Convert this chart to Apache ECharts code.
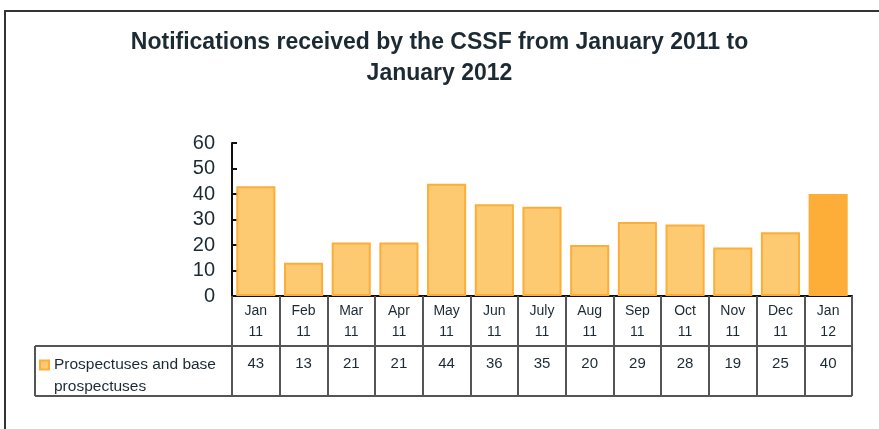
<!DOCTYPE html>
<html>
<head>
<meta charset="utf-8">
<script src="https://cdn.jsdelivr.net/npm/echarts@6/dist/echarts.min.js"></script>
<style>
  html, body { margin: 0; padding: 0; background: #fff; }
  #chart { width: 879px; height: 429px; }
</style>
</head>
<body>
<div id="chart"></div>
<script>
  // data
  const months = ['Jan', 'Feb', 'Mar', 'Apr', 'May', 'Jun', 'July', 'Aug', 'Sep', 'Oct', 'Nov', 'Dec', 'Jan']
  const years = ['11', '11', '11', '11', '11', '11', '11', '11', '11', '11', '11', '11', '12']
  const notifications = [43, 13, 21, 21, 44, 36, 35, 20, 29, 28, 19, 25, 40]
  const seriesName = 'Prospectuses and base prospectuses'
  const yTicks = [0, 10, 20, 30, 40, 50, 60]

  const categories = months.map((m, i) => m + '\n' + years[i])
  const txt = '#1c2a33'
  const lineCol = '#555'

  const myChart = echarts.init(document.getElementById('chart'))
  myChart.setOption({
    animation: false,
    textStyle: { fontFamily: 'Liberation Sans, Arial, sans-serif' },
    title: {
      text: 'Notifications received by the CSSF from January 2011 to\nJanuary 2012',
      left: 'center',
      top: 22,
      textStyle: {
        fontSize: 23,
        fontWeight: 'bold',
        color: txt,
        lineHeight: 31
      }
    },
    legend: {
      left: 39,
      top: 357,
      padding: 0,
      icon: 'rect',
      itemWidth: 9,
      itemHeight: 9,
      formatter: () => 'Prospectuses and base',
      textStyle: { fontSize: 15.5, color: txt }
    },
    grid: { left: 232, right: 27, top: 143, bottom: 133 },
    xAxis: [{
      type: 'category',
      data: categories,
      axisLine: { lineStyle: { color: '#111', width: 2 } },
      axisTick: { show: true, inside: false, length: 100, lineStyle: { color: lineCol, width: 2 } },
      axisLabel: { color: txt, fontSize: 14, lineHeight: 21, margin: 5 }
    }, {
      type: 'category',
      position: 'bottom',
      offset: 50,
      data: notifications.map(String),
      axisLine: { show: false },
      axisTick: { show: false },
      axisLabel: { color: txt, fontSize: 15, margin: 10 }
    }],
    yAxis: {
      type: 'value',
      min: yTicks[0],
      max: yTicks[yTicks.length - 1],
      interval: 10,
      splitLine: { show: false },
      axisLine: { show: true, lineStyle: { color: '#111', width: 2 } },
      axisTick: { show: true, inside: true, length: 5, lineStyle: { color: '#111', width: 2 } },
      axisLabel: { color: txt, fontSize: 20, margin: 17 }
    },
    series: [{
      name: seriesName,
      type: 'bar',
      barCategoryGap: '18%',
      itemStyle: { color: '#fdca72', borderColor: '#fbae3a', borderWidth: 2 },
      data: notifications.map((v, i) => i === notifications.length - 1
        ? { value: v, itemStyle: { color: '#fdae38', borderColor: '#fdae38' } }
        : v)
    }],
    graphic: [
      // outer frame
      { type: 'rect', shape: { x: 5, y: 11, width: 900, height: 440 }, style: { fill: null, stroke: '#333', lineWidth: 2 }, silent: true },
      // data table lines
      { type: 'line', shape: { x1: 35, y1: 346, x2: 852, y2: 346 }, style: { stroke: lineCol, lineWidth: 2 } },
      { type: 'line', shape: { x1: 35, y1: 396, x2: 852, y2: 396 }, style: { stroke: lineCol, lineWidth: 2 } },
      { type: 'line', shape: { x1: 35, y1: 346, x2: 35, y2: 396 }, style: { stroke: lineCol, lineWidth: 2 } },
      // second line of the legend label
      { type: 'text', left: 54, top: 379, style: { text: 'prospectuses', fill: txt, font: '15.5px Liberation Sans, Arial, sans-serif' } }
    ]
  })
</script>
</body>
</html>
